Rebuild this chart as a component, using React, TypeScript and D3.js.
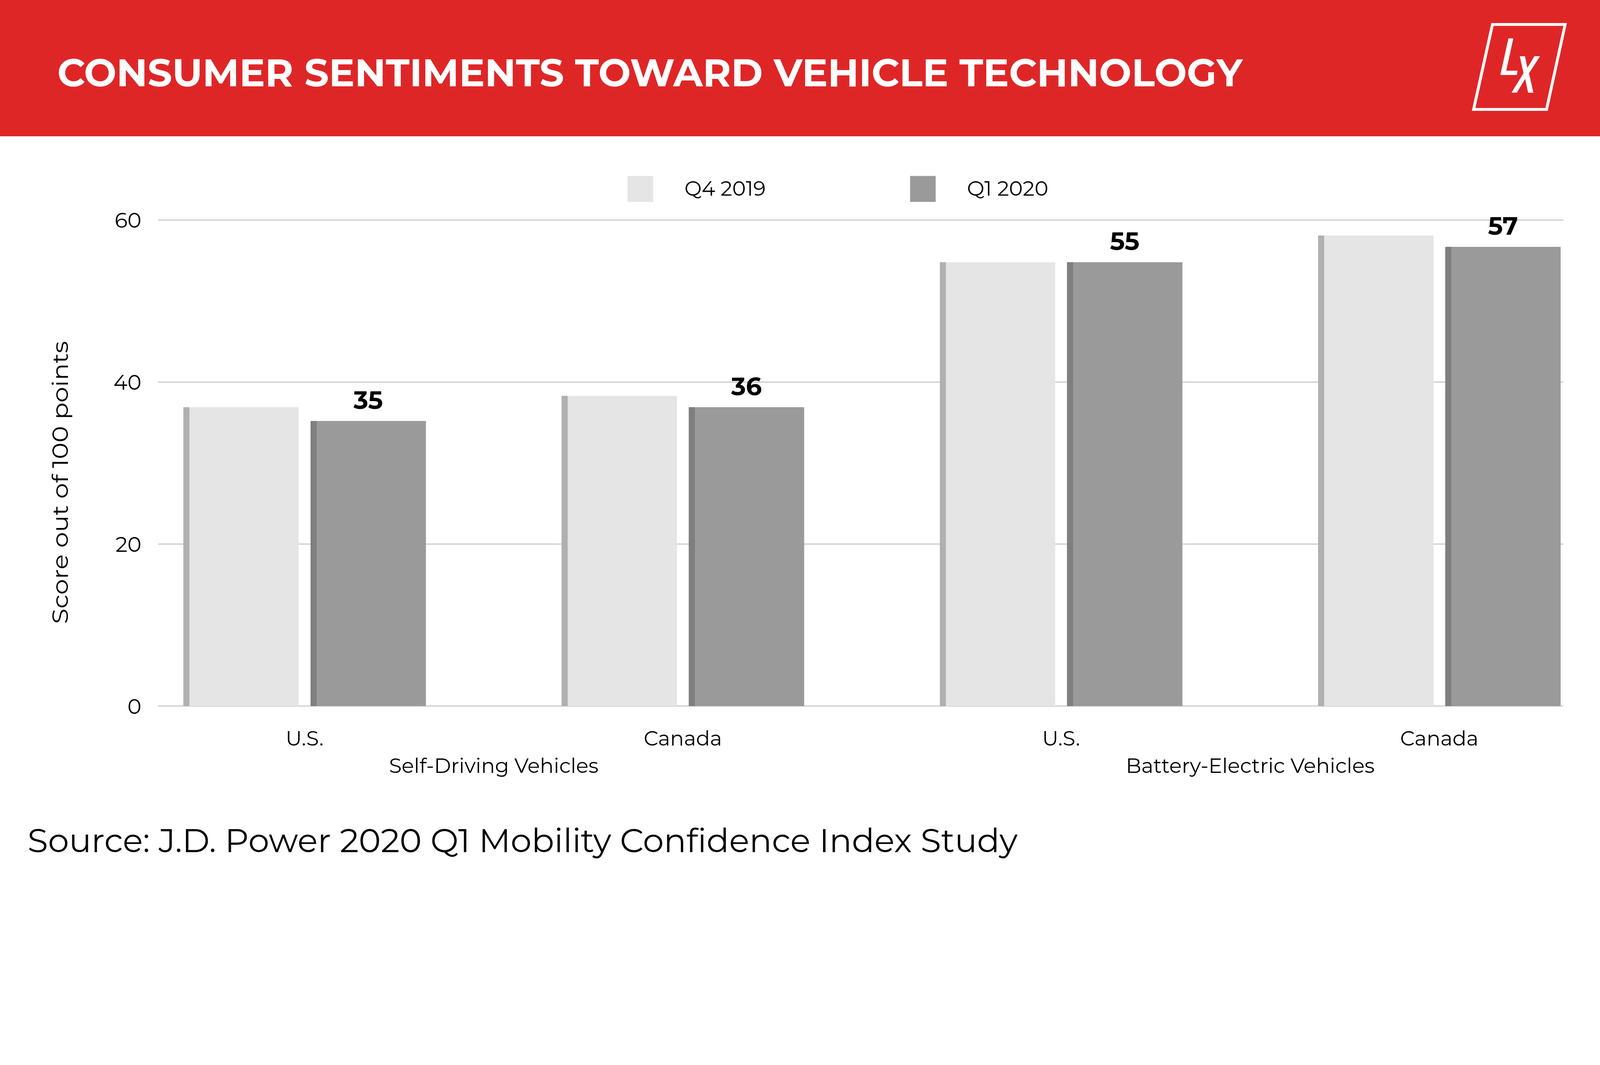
import * as d3 from "d3";

const categories = ["sdv-us", "sdv-ca", "bev-us", "bev-ca"];
const categoryLabels = ["U.S.", "Canada", "U.S.", "Canada"];
const groups = ["Self-Driving Vehicles", "Battery-Electric Vehicles"];
const groupOf = [0, 0, 1, 1];

const seriesNames = ["Q4 2019", "Q1 2020"];
const q4Values = [36.9, 38.3, 54.8, 58.1];
const q1Values = [35.2, 36.9, 54.8, 56.7];
const q1Labels = ["35", "36", "55", "57"];

const yTicks = [0, 20, 40, 60];

const TITLE = "CONSUMER SENTIMENTS TOWARD VEHICLE TECHNOLOGY";
const Y_TITLE = "Score out of 100 points";
const SOURCE = "Source: J.D. Power 2020 Q1 Mobility Confidence Index Study";

const W = 5000;
const H = 2727;
const RED = "#df2627";
const FONT = "Montserrat, Inter, 'Open Sans', sans-serif";

const fills = ["#e5e5e5", "#9a9a9a"];
const strips = ["#b0b0b0", "#7f7f7f"];

const x = d3.scalePoint<string>().domain(categories).range([952, 4498]);
const inner = d3
  .scaleBand<string>()
  .domain(seriesNames)
  .range([-379, 379])
  .paddingInner(0.093);
const y = d3.scaleLinear().domain([0, 60]).range([2207, 688]);

const gridLeft = 494;
const gridRight = 4885;

// LX logo in the header
function Logo() {
  return (
    <g fill="white">
      <polygon
        points="4664,76.5 4891,76.5 4833,342 4605,342"
        fill="none"
        stroke="white"
        strokeWidth={9}
      />
      <polygon points="4713.8,120 4729.1,120 4706.9,221 4742.5,221 4740.2,234.3 4688.6,234.3" />
      <polygon points="4749.4,175.7 4765.5,175.7 4773.1,212 4794.9,175.7 4812.5,175.7 4778.1,229.3 4791.9,289.7 4775.4,289.7 4766.2,246.7 4740.2,289.7 4723.4,289.7 4760.9,229.3" />
    </g>
  );
}

export default function App() {
  const values = [q4Values, q1Values];
  const legendX = [1961, 2844];

  return (
    <svg
      viewBox={`0 0 ${W} ${H}`}
      style={{
        position: "absolute",
        left: 0,
        top: 0,
        width: "100vw",
        height: `calc(100vw * ${H} / ${W})`,
        display: "block",
        fontFamily: FONT,
      }}
    >
      <rect width={W} height={H} fill="white" />

      {/* header band */}
      <rect width={W} height={426} fill={RED} />
      <text
        x={179}
        y={270}
        fill="white"
        fontSize={120}
        fontWeight={700}
        textLength={3704}
        lengthAdjust="spacingAndGlyphs"
      >
        {TITLE}
      </text>
      <Logo />

      {/* legend */}
      {seriesNames.map((s, i) => (
        <g key={s}>
          <rect x={legendX[i]} y={550} width={80} height={81} fill={fills[i]} />
          <text
            x={legendX[i] + 178}
            y={612}
            fontSize={64}
            textLength={254}
            lengthAdjust="spacingAndGlyphs"
          >
            {s}
          </text>
        </g>
      ))}

      {/* grid + y ticks */}
      {yTicks.map((t) => (
        <g key={t}>
          <line
            x1={gridLeft}
            x2={gridRight}
            y1={y(t)}
            y2={y(t)}
            stroke="#cfcfcf"
            strokeWidth={4}
          />
          <text x={442} y={y(t) + 24} fontSize={66} textAnchor="end">
            {t}
          </text>
        </g>
      ))}

      <text
        transform={`translate(212,1508) rotate(-90)`}
        fontSize={68}
        textAnchor="middle"
        textLength={884}
        lengthAdjust="spacingAndGlyphs"
      >
        {Y_TITLE}
      </text>

      {/* bars */}
      {categories.map((c, ci) => (
        <g key={c}>
          {seriesNames.map((s, si) => {
            const v = values[si][ci];
            const bx = (x(c) ?? 0) + (inner(s) ?? 0);
            const bw = inner.bandwidth();
            return (
              <g key={s}>
                <rect x={bx} y={y(v)} width={bw} height={y(0) - y(v)} fill={fills[si]} />
                <rect x={bx} y={y(v)} width={19} height={y(0) - y(v)} fill={strips[si]} />
              </g>
            );
          })}
          <text
            x={(x(c) ?? 0) + (inner(seriesNames[1]) ?? 0) + inner.bandwidth() / 2}
            y={y(q1Values[ci]) - 38}
            fontSize={78}
            fontWeight={700}
            textAnchor="middle"
          >
            {q1Labels[ci]}
          </text>
          <text x={x(c)} y={2330} fontSize={64} textAnchor="middle">
            {categoryLabels[ci]}
          </text>
        </g>
      ))}

      {/* group labels */}
      {groups.map((g, gi) => {
        const members = categories.filter((_, i) => groupOf[i] === gi);
        const cx = d3.mean(members, (m) => x(m) ?? 0) ?? 0;
        return (
          <text key={g} x={cx} y={2416} fontSize={64} textAnchor="middle">
            {g}
          </text>
        );
      })}

      <text
        x={86}
        y={2664}
        fontSize={104}
        textLength={3094}
        lengthAdjust="spacingAndGlyphs"
      >
        {SOURCE}
      </text>
    </svg>
  );
}
